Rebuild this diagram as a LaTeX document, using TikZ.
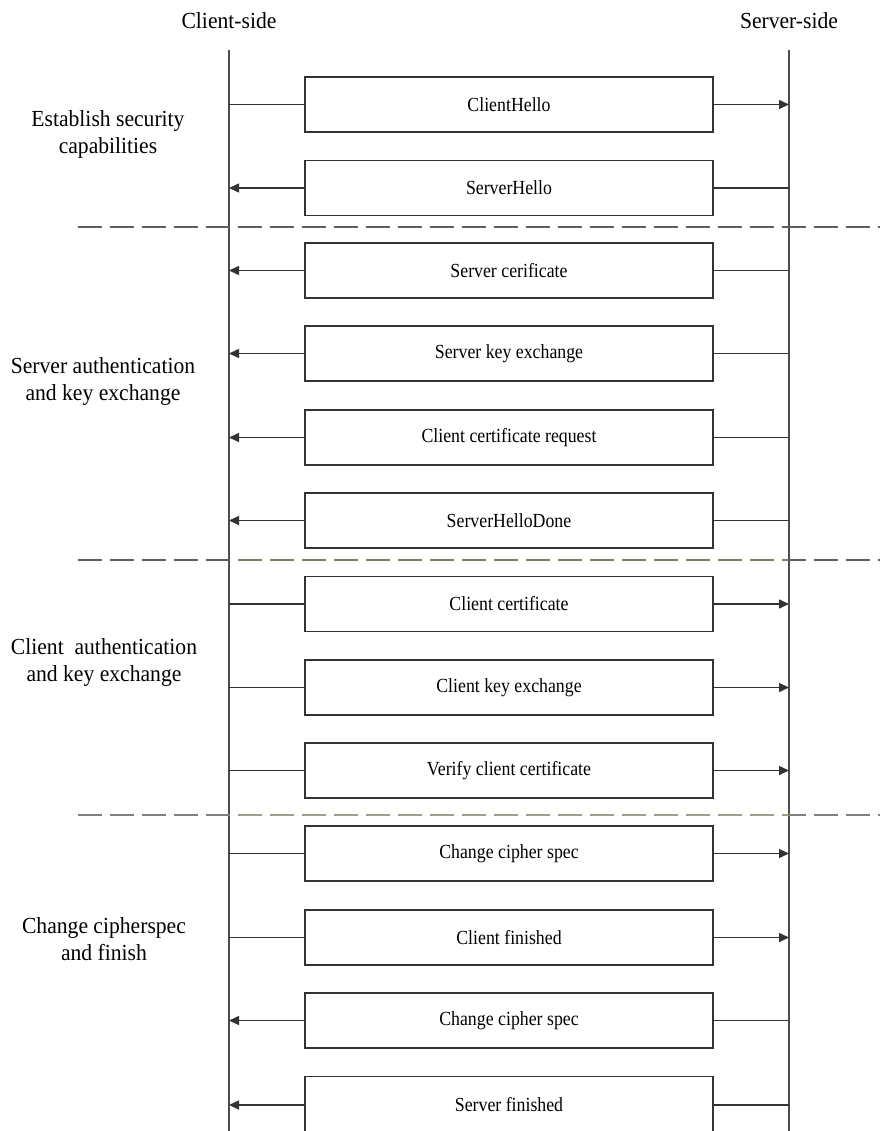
\documentclass[tikz,border=0pt]{standalone}
\usepackage{fontspec}
\setmainfont{Liberation Serif}
\newfontfamily\lblfont[FakeStretch=0.94]{Liberation Serif}
\newfontfamily\boxfont[FakeStretch=0.89]{Liberation Serif}
\usetikzlibrary{arrows.meta}
\definecolor{sepgray}{HTML}{5E5E5E}
\definecolor{sepolive}{HTML}{7E7E5C}
\definecolor{sepolivelt}{HTML}{A0A080}
\definecolor{sepgraylt}{HTML}{808080}
\begin{document}
\begin{tikzpicture}[x=1pt,y=-1pt,
  msg/.style={draw=black!80,line width=1.5pt,fill=white,minimum width=408pt,
    minimum height=55pt,inner sep=0pt,font=\boxfont\fontsize{20}{24}\selectfont},
  life/.style={draw=black!70,line width=1.3pt},
  conn/.style={draw=black!80,line width=1.5pt},
  arr/.style={conn,-{Triangle[length=10pt,width=9pt]}},
  sep/.style={line width=2.2pt,dash pattern=on 24pt off 8pt},
  head/.style={font=\lblfont\fontsize{23}{28}\selectfont},
  phase/.style={font=\lblfont\fontsize{23}{27}\selectfont,align=center}]
\useasboundingbox (0,0) rectangle (880,1131);

% headers
\node[head] (client) at (229,21) {Client-side};
\node[head] (server) at (789,21) {Server-side};

% lifelines
\coordinate (ct) at (229,50);
\coordinate (cb) at (229,1140);
\coordinate (st) at (789,50);
\coordinate (sb) at (789,1140);
\draw[life] (ct) -- (cb);
\draw[life] (st) -- (sb);

% separators
\coordinate (d1a) at (78,227);  \coordinate (d1b) at (880,227);
\coordinate (d2a) at (78,560);  \coordinate (d2b) at (880,560);
\coordinate (d3a) at (78,815);  \coordinate (d3b) at (880,815);
\draw[sep,draw=sepgray] (d1a) -- (d1b);
\draw[sep,draw=sepgray] (d2a) -- (d2b);
\draw[sep,draw=sepgraylt] (d3a) -- (d3b);
\begin{scope}
  \clip (230,0) rectangle (788,1131);
  \draw[sep,draw=sepolive] (d2a) -- (d2b);
  \draw[sep,draw=sepolivelt] (d3a) -- (d3b);
\end{scope}

% phase labels
\node[phase] (p1) at (108,134) {Establish security\\capabilities};
\node[phase] (p2) at (103,382) {Server authentication\\and key exchange};
\node[phase] (p3) at (104,662) {Client~ authentication\\and key exchange};
\node[phase] (p4) at (104,939) {Change cipherspec\\and finish};

% messages
\node[msg] (m1)  at (509,104.5) {ClientHello};
\node[msg] (m2)  at (509,188)   {ServerHello};
\node[msg] (m3)  at (509,270.5) {Server cerificate};
\node[msg] (m4)  at (509,353.5) {Server key exchange};
\node[msg] (m5)  at (509,437.5) {Client certificate request};
\node[msg] (m6)  at (509,520.5) {ServerHelloDone};
\node[msg] (m7)  at (509,604)   {Client certificate};
\node[msg] (m8)  at (509,687.5) {Client key exchange};
\node[msg] (m9)  at (509,770.5) {Verify client certificate};
\node[msg] (m10) at (509,853.5) {Change cipher spec};
\node[msg] (m11) at (509,937.5) {Client finished};
\node[msg] (m12) at (509,1020.5){Change cipher spec};
\node[msg,minimum height=57pt] (m13) at (509,1105) {Server finished};

% client -> server
\foreach \m in {m1,m7,m8,m9,m10,m11}{
  \draw[conn] (\m.west -| ct) -- (\m.west);
  \draw[arr] (\m.east) -- (\m.east -| st);
}
% server -> client
\foreach \m in {m2,m3,m4,m5,m6,m12,m13}{
  \draw[conn] (\m.east -| st) -- (\m.east);
  \draw[arr] (\m.west) -- (\m.west -| ct);
}
\end{tikzpicture}
\end{document}
